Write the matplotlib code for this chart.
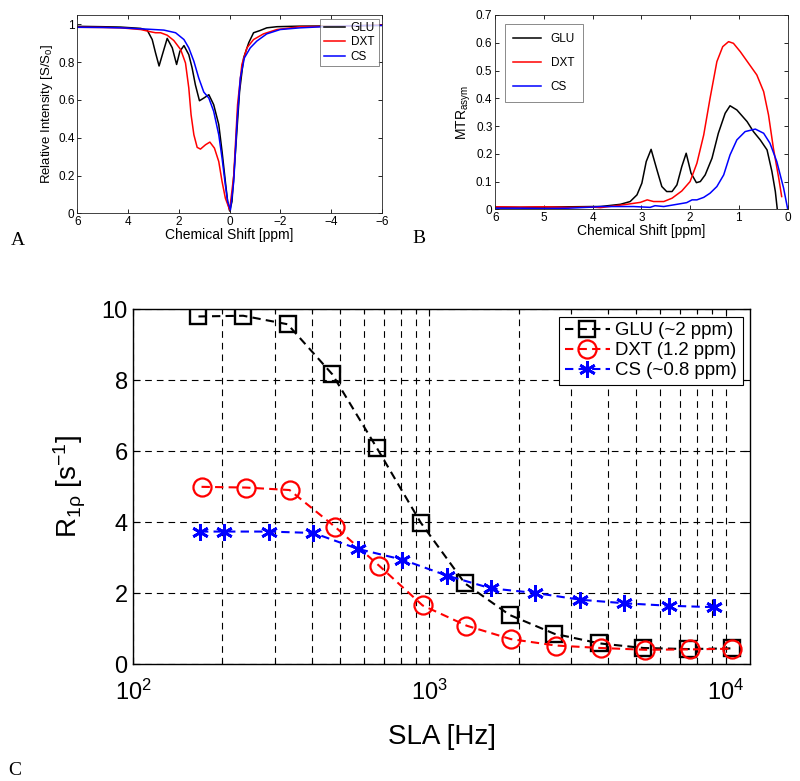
import matplotlib
matplotlib.use("Agg")
import matplotlib.pyplot as plt

plt.rcParams['font.family'] = ['Liberation Sans', 'DejaVu Sans']
plt.rcParams['mathtext.fontset'] = 'custom'
plt.rcParams['mathtext.rm'] = 'Liberation Sans'
plt.rcParams['mathtext.it'] = 'Liberation Sans:italic'
plt.rcParams['mathtext.bf'] = 'Liberation Sans:bold'

# ---- panel A: Z-spectra ----
ppm_glu_a = [6, 5, 4.29, 3.5, 3.24, 3.05, 2.92, 2.78, 2.65, 2.46, 2.26, 2.09, 1.96, 1.80, 1.61, 1.48,
             1.35, 1.19, 1.02, 0.82, 0.63, 0.43, 0.30, 0.17, 0.08, 0.0, -0.09, -0.22, -0.39, -0.55,
             -0.75, -0.94, -1.20, -1.46, -1.86, -2.77, -4, -5, -6]
int_glu_a = [0.99, 0.988, 0.986, 0.979, 0.968, 0.92, 0.85, 0.78, 0.84, 0.926, 0.876, 0.788, 0.858, 0.888,
             0.84, 0.77, 0.68, 0.596, 0.61, 0.628, 0.575, 0.47, 0.327, 0.168, 0.062, 0.012, 0.062, 0.31,
             0.646, 0.823, 0.903, 0.956, 0.968, 0.982, 0.988, 0.991, 0.992, 0.994, 0.995]
ppm_dxt_a = [6, 5, 4.29, 3.5, 3.11, 2.92, 2.72, 2.46, 2.2, 1.93, 1.74, 1.61, 1.52, 1.41, 1.28, 1.15,
             0.95, 0.78, 0.60, 0.43, 0.30, 0.17, 0.0, -0.16, -0.31, -0.48, -0.68, -0.94, -1.33, -1.86,
             -2.77, -4, -5, -6]
int_dxt_a = [0.985, 0.984, 0.982, 0.973, 0.961, 0.956, 0.956, 0.943, 0.915, 0.867, 0.796, 0.664, 0.522,
             0.416, 0.349, 0.34, 0.363, 0.377, 0.345, 0.274, 0.168, 0.08, 0.018, 0.2, 0.575, 0.788,
             0.876, 0.92, 0.95, 0.973, 0.988, 0.99, 0.993, 0.997]
ppm_cs_a = [6, 5, 4.29, 3.24, 2.59, 2.13, 1.80, 1.61, 1.41, 1.22, 1.02, 0.82, 0.63, 0.43, 0.30, 0.17,
            0.08, -0.03, -0.16, -0.29, -0.42, -0.58, -0.81, -1.07, -1.46, -1.99, -2.77, -4, -5, -6]
int_cs_a = [0.985, 0.984, 0.982, 0.975, 0.97, 0.956, 0.92, 0.876, 0.805, 0.717, 0.642, 0.61, 0.54, 0.416,
            0.292, 0.15, 0.062, 0.018, 0.168, 0.487, 0.717, 0.823, 0.876, 0.912, 0.95, 0.973, 0.982,
            0.99, 0.993, 0.995]

# ---- panel B: MTR asymmetry ----
ppm_glu_b = [6, 5.5, 5, 4.5, 4, 3.84, 3.43, 3.23, 3.09, 2.99, 2.90, 2.80, 2.68, 2.58, 2.48, 2.37, 2.27,
             2.17, 2.08, 1.98, 1.87, 1.79, 1.69, 1.55, 1.42, 1.28, 1.18, 1.04, 0.83, 0.70, 0.56, 0.42,
             0.32, 0.25, 0.21]
mtr_glu_b = [0.008, 0.007, 0.008, 0.009, 0.01, 0.01, 0.018, 0.028, 0.052, 0.094, 0.172, 0.216, 0.142,
             0.082, 0.064, 0.064, 0.088, 0.154, 0.202, 0.13, 0.096, 0.10, 0.124, 0.184, 0.274, 0.346,
             0.373, 0.358, 0.316, 0.28, 0.25, 0.214, 0.136, 0.064, 0.0]
ppm_dxt_b = [6, 5.5, 5, 4.5, 4, 3.84, 3.30, 3.02, 2.88, 2.75, 2.54, 2.37, 2.17, 2.0, 1.86, 1.72, 1.59,
             1.45, 1.33, 1.21, 1.11, 0.97, 0.80, 0.63, 0.49, 0.39, 0.29, 0.18, 0.12]
mtr_dxt_b = [0.009, 0.008, 0.009, 0.007, 0.008, 0.006, 0.018, 0.025, 0.034, 0.028, 0.028, 0.04, 0.066,
             0.10, 0.166, 0.268, 0.40, 0.532, 0.586, 0.604, 0.598, 0.568, 0.526, 0.484, 0.424, 0.34,
             0.22, 0.112, 0.046]
ppm_cs_b = [6, 5.5, 5, 4.5, 4, 3.84, 3.16, 2.82, 2.72, 2.54, 2.27, 2.07, 1.96, 1.86, 1.72, 1.59, 1.45,
            1.31, 1.18, 1.04, 0.87, 0.66, 0.49, 0.36, 0.22, 0.08, 0.0]
mtr_cs_b = [0.004, 0.004, 0.003, 0.004, 0.008, 0.01, 0.01, 0.007, 0.013, 0.01, 0.018, 0.024, 0.034,
            0.034, 0.043, 0.058, 0.082, 0.124, 0.196, 0.25, 0.28, 0.289, 0.274, 0.238, 0.172, 0.076,
            0.004]

# ---- panel C: R1rho dispersion ----
sla_glu = [166, 235, 332, 470, 664, 935, 1318, 1866, 2643, 3750, 5275, 7467, 10520]
r1rho_glu = [9.8, 9.82, 9.58, 8.17, 6.1, 3.99, 2.28, 1.39, 0.86, 0.59, 0.46, 0.43, 0.45]
sla_dxt = [170, 240, 337, 479, 678, 948, 1334, 1884, 2668, 3784, 5355, 7555, 10520]
r1rho_dxt = [5.0, 4.98, 4.91, 3.88, 2.77, 1.66, 1.09, 0.71, 0.53, 0.46, 0.41, 0.42, 0.44]
sla_cs = [168, 203, 287, 406, 574, 810, 1146, 1614, 2280, 3230, 4550, 6440, 9120]
r1rho_cs = [3.74, 3.74, 3.74, 3.70, 3.25, 2.95, 2.50, 2.14, 2.01, 1.82, 1.72, 1.65, 1.61]

names = ['GLU', 'DXT', 'CS']
colors = ['k', '#ff0000', '#0000ff']

fig = plt.figure(figsize=(8, 7.81), dpi=100)

def small_axes(ax):
    ax.tick_params(direction='in', top=True, right=True, labelsize=8.5, length=3, width=0.6, pad=2)
    for s in ax.spines.values():
        s.set_linewidth(0.6)
        s.set_color('#222222')

# A
axa = fig.add_axes([0.0966, 0.7269, 0.381, 0.2539])
axa.plot(ppm_glu_a, int_glu_a, color=colors[0], lw=1.1, label=names[0])
axa.plot(ppm_dxt_a, int_dxt_a, color=colors[1], lw=1.1, label=names[1])
axa.plot(ppm_cs_a, int_cs_a, color=colors[2], lw=1.1, label=names[2])
axa.set_xlim(6, -6)
axa.set_ylim(0, 1.05)
axa.set_xticks([6, 4, 2, 0, -2, -4, -6])
axa.set_yticks([0, 0.2, 0.4, 0.6, 0.8, 1])
axa.set_yticklabels(['0', '0.2', '0.4', '0.6', '0.8', '1'])
small_axes(axa)
axa.set_xlabel('Chemical Shift [ppm]', fontsize=10, labelpad=0)
axa.set_ylabel('Relative Intensity [S/S$_0$]', fontsize=9.5, labelpad=2)
leg = axa.legend(loc='upper right', fontsize=8.5, frameon=True, fancybox=False, borderpad=0.3,
                 labelspacing=0.2, handlelength=1.8, handletextpad=0.5, borderaxespad=0.3)
leg.get_frame().set_edgecolor('#555555')
leg.get_frame().set_linewidth(0.6)

# B
axb = fig.add_axes([0.619, 0.732, 0.3654, 0.2488])
axb.plot(ppm_glu_b, mtr_glu_b, color=colors[0], lw=1.1, label=names[0])
axb.plot(ppm_dxt_b, mtr_dxt_b, color=colors[1], lw=1.1, label=names[1])
axb.plot(ppm_cs_b, mtr_cs_b, color=colors[2], lw=1.1, label=names[2])
axb.set_xlim(6, 0)
axb.set_ylim(0, 0.7)
axb.set_xticks([6, 5, 4, 3, 2, 1, 0])
axb.set_yticks([0, 0.1, 0.2, 0.3, 0.4, 0.5, 0.6, 0.7])
axb.set_yticklabels(['0', '0.1', '0.2', '0.3', '0.4', '0.5', '0.6', '0.7'])
small_axes(axb)
axb.set_xlabel('Chemical Shift [ppm]', fontsize=10, labelpad=0)
axb.set_ylabel('MTR$_{\\mathregular{asym}}$', fontsize=10, labelpad=2)
leg = axb.legend(loc='upper left', fontsize=8.5, frameon=True, fancybox=False, borderpad=0.7,
                 labelspacing=1.05, handlelength=2.4, handletextpad=0.8, borderaxespad=0.8)
leg.get_frame().set_edgecolor('#555555')
leg.get_frame().set_linewidth(0.6)

# C
axc = fig.add_axes([0.1666, 0.1494, 0.771, 0.4545])
axc.set_xscale('log')
axc.plot(sla_glu, r1rho_glu, color=colors[0], ls='--', dashes=(4, 2.5), lw=1.5, marker='s',
         ms=11, mew=1.7, mfc='none', label='GLU (~2 ppm)')
axc.plot(sla_dxt, r1rho_dxt, color=colors[1], ls='--', dashes=(4, 2.5), lw=1.5, marker='o',
         ms=13, mew=1.6, mfc='none', label='DXT (1.2 ppm)')
axc.plot(sla_cs, r1rho_cs, color=colors[2], ls='--', dashes=(4, 2.5), lw=1.5, marker=(6, 2, 0),
         ms=12, mew=2.0, label='CS (~0.8 ppm)')
axc.set_xlim(100, 12100)
axc.set_ylim(0, 10)
axc.set_yticks([0, 2, 4, 6, 8, 10])
axc.grid(True, which='both', axis='x', color='k', lw=0.8, ls='--', dashes=(6, 4.5))
axc.grid(True, which='major', axis='y', color='k', lw=0.8, ls='--', dashes=(6, 4.5))
axc.tick_params(which='both', direction='in', top=True, right=True, labelsize=17, width=0.8)
axc.tick_params(which='major', length=5)
axc.tick_params(which='minor', length=3)
axc.tick_params(axis='x', which='both', pad=11)
axc.tick_params(axis='y', pad=4)
for s in axc.spines.values():
    s.set_linewidth(1.0)
axc.set_xlabel('SLA [Hz]', fontsize=20, labelpad=14)
axc.set_ylabel('R$_{\\mathregular{1\u03c1}}$ [s$^{\\mathregular{-1}}$]', fontsize=20, labelpad=10)
leg = axc.legend(loc='upper right', fontsize=13.4, frameon=True, fancybox=False, borderpad=0.3,
                 labelspacing=0.15, handlelength=2.4, handletextpad=0.3, borderaxespad=0.4,
                 numpoints=1)
leg.get_frame().set_edgecolor('k')
leg.get_frame().set_linewidth(0.8)
leg.get_frame().set_alpha(1)

for lbl, x, y in [('A', 0.014, 0.686), ('B', 0.516, 0.689), ('C', 0.010, 0.008)]:
    fig.text(x, y, lbl, fontsize=14, family='Liberation Serif', va='baseline')

fig.savefig('out.png', dpi=100)
